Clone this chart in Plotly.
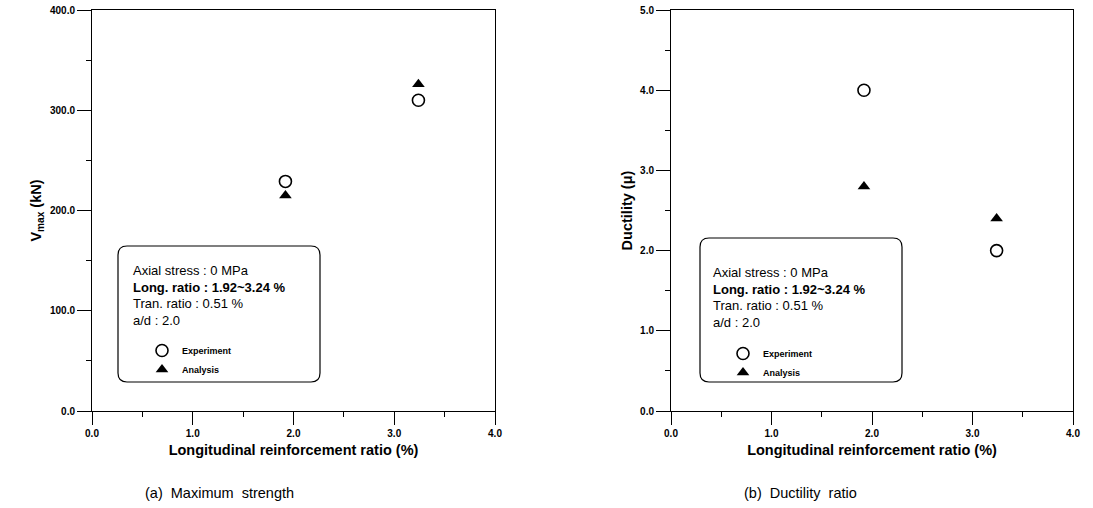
import plotly.graph_objects as go

# ---------------- data ----------------
ratio = [1.92, 3.24]
vmax_exp = [229.0, 310.0]
vmax_ana = [215.0, 326.0]
duct_exp = [4.0, 2.0]
duct_ana = [2.8, 2.4]

x_ticks = [0.0, 1.0, 2.0, 3.0, 4.0]
y1_ticks = [0.0, 100.0, 200.0, 300.0, 400.0]
y2_ticks = [0.0, 1.0, 2.0, 3.0, 4.0, 5.0]

info_lines = ["Axial stress : 0 MPa", "<b>Long. ratio : 1.92~3.24 %</b>",
              "Tran. ratio : 0.51 %", "a/d : 2.0"]
x_title = "<b>Longitudinal reinforcement ratio (%)</b>"
y1_title = "<b>V<sub>max</sub> (kN)</b>"
y2_title = "<b>Ductility (\u03bc)</b>"
captions = ["(a)  Maximum  strength", "(b)  Ductility  ratio"]

W, H = 1093, 508
FONT = "Arial"

def px(x):
    return x / W

def py(y):
    return 1 - y / H

fig = go.Figure()

circle = dict(symbol="circle-open", size=12, color="black", line=dict(width=1.6, color="black"))
tri = dict(symbol="triangle-up", size=11, color="black")

fig.add_trace(go.Scatter(x=ratio, y=vmax_exp, mode="markers", marker=circle, name="<b>Experiment</b>",
                         xaxis="x", yaxis="y", legend="legend"))
fig.add_trace(go.Scatter(x=ratio, y=vmax_ana, mode="markers", marker=tri, name="<b>Analysis</b>",
                         xaxis="x", yaxis="y", legend="legend"))
fig.add_trace(go.Scatter(x=ratio, y=duct_exp, mode="markers", marker=circle, name="<b>Experiment</b>",
                         xaxis="x2", yaxis="y2", legend="legend2"))
fig.add_trace(go.Scatter(x=ratio, y=duct_ana, mode="markers", marker=tri, name="<b>Analysis</b>",
                         xaxis="x2", yaxis="y2", legend="legend2"))

tickfont = dict(family=FONT, size=10, color="black", weight="bold")
titlefont = dict(family=FONT, size=14.5, color="black")

def xaxis(domain, anchor):
    return dict(domain=domain, anchor=anchor, range=[0, 4], tickvals=x_ticks,
                ticktext=[f"{v:.1f}" for v in x_ticks], ticks="outside", ticklen=13,
                tickwidth=1, tickcolor="black", showline=True, linecolor="black",
                linewidth=1, mirror=True, showgrid=False, zeroline=False, automargin=False,
                minor=dict(ticks="outside", ticklen=5, dtick=0.5, tickcolor="black", showgrid=False),
                tickfont=tickfont, title=dict(text=x_title, font=titlefont, standoff=6))

def yaxis(domain, anchor, rng, vals, title):
    return dict(domain=domain, anchor=anchor, range=rng, tickvals=vals,
                ticktext=[f"{v:.1f}" for v in vals], ticks="outside", ticklen=14,
                tickwidth=1, tickcolor="black", showline=True, linecolor="black",
                linewidth=1, mirror=True, showgrid=False, zeroline=False, automargin=False,
                minor=dict(ticks="outside", ticklen=5, dtick=(vals[1] - vals[0]) / 2,
                           tickcolor="black", showgrid=False),
                tickfont=tickfont, title=dict(text=title, font=titlefont, standoff=4))

ydom = [py(411), py(10)]
legfont = dict(family=FONT, size=9, color="black")
fig.update_layout(
    width=W, height=H, margin=dict(l=0, r=0, t=0, b=0, autoexpand=False),
    paper_bgcolor="white", plot_bgcolor="white",
    xaxis=xaxis([px(92), px(495)], "y"),
    yaxis=yaxis(ydom, "x", [0, 400], y1_ticks, y1_title),
    xaxis2=xaxis([px(671), px(1073)], "y2"),
    yaxis2=yaxis(ydom, "x2", [0, 5], y2_ticks, y2_title),
    legend=dict(x=px(142), y=py(336), xanchor="left", yanchor="top", bgcolor="rgba(0,0,0,0)",
                font=legfont, itemwidth=30, tracegroupgap=0, borderwidth=0),
    legend2=dict(x=px(723), y=py(339), xanchor="left", yanchor="top", bgcolor="rgba(0,0,0,0)",
                 font=legfont, itemwidth=30, tracegroupgap=0, borderwidth=0),
    showlegend=True,
)

def rounded_box(x0, y0, x1, y1, r=9):
    X0, X1 = px(x0), px(x1)
    Y0, Y1 = py(y0), py(y1)
    rx, ry = r / W, r / H
    path = (f"M {X0+rx},{Y0} L {X1-rx},{Y0} Q {X1},{Y0} {X1},{Y0-ry} "
            f"L {X1},{Y1+ry} Q {X1},{Y1} {X1-rx},{Y1} "
            f"L {X0+rx},{Y1} Q {X0},{Y1} {X0},{Y1+ry} "
            f"L {X0},{Y0-ry} Q {X0},{Y0} {X0+rx},{Y0} Z")
    return dict(type="path", xref="paper", yref="paper", path=path,
                line=dict(color="black", width=1.2), fillcolor="rgba(0,0,0,0)")

fig.add_shape(rounded_box(118, 246, 320, 382))
fig.add_shape(rounded_box(700, 238, 902, 382))

def info(x0, ys):
    for line, yy in zip(info_lines, ys):
        fig.add_annotation(x=px(x0), y=py(yy), xref="paper", yref="paper", text=line,
                           showarrow=False, xanchor="left", yanchor="middle",
                           font=dict(family=FONT, size=13, color="black"))

info(131, [270, 287, 303, 320])
info(711, [272, 289, 305, 322])

capfont = dict(family="Arial", size=14.5, color="black")
fig.add_annotation(x=px(220), y=py(493), xref="paper", yref="paper", text=captions[0],
                   showarrow=False, xanchor="center", yanchor="middle", font=capfont)
fig.add_annotation(x=px(800), y=py(493), xref="paper", yref="paper", text=captions[1],
                   showarrow=False, xanchor="center", yanchor="middle", font=capfont)

fig.write_html("out.html", config={"displayModeBar": False},
               post_script="document.body.style.margin='0';document.body.style.overflow='hidden';")
